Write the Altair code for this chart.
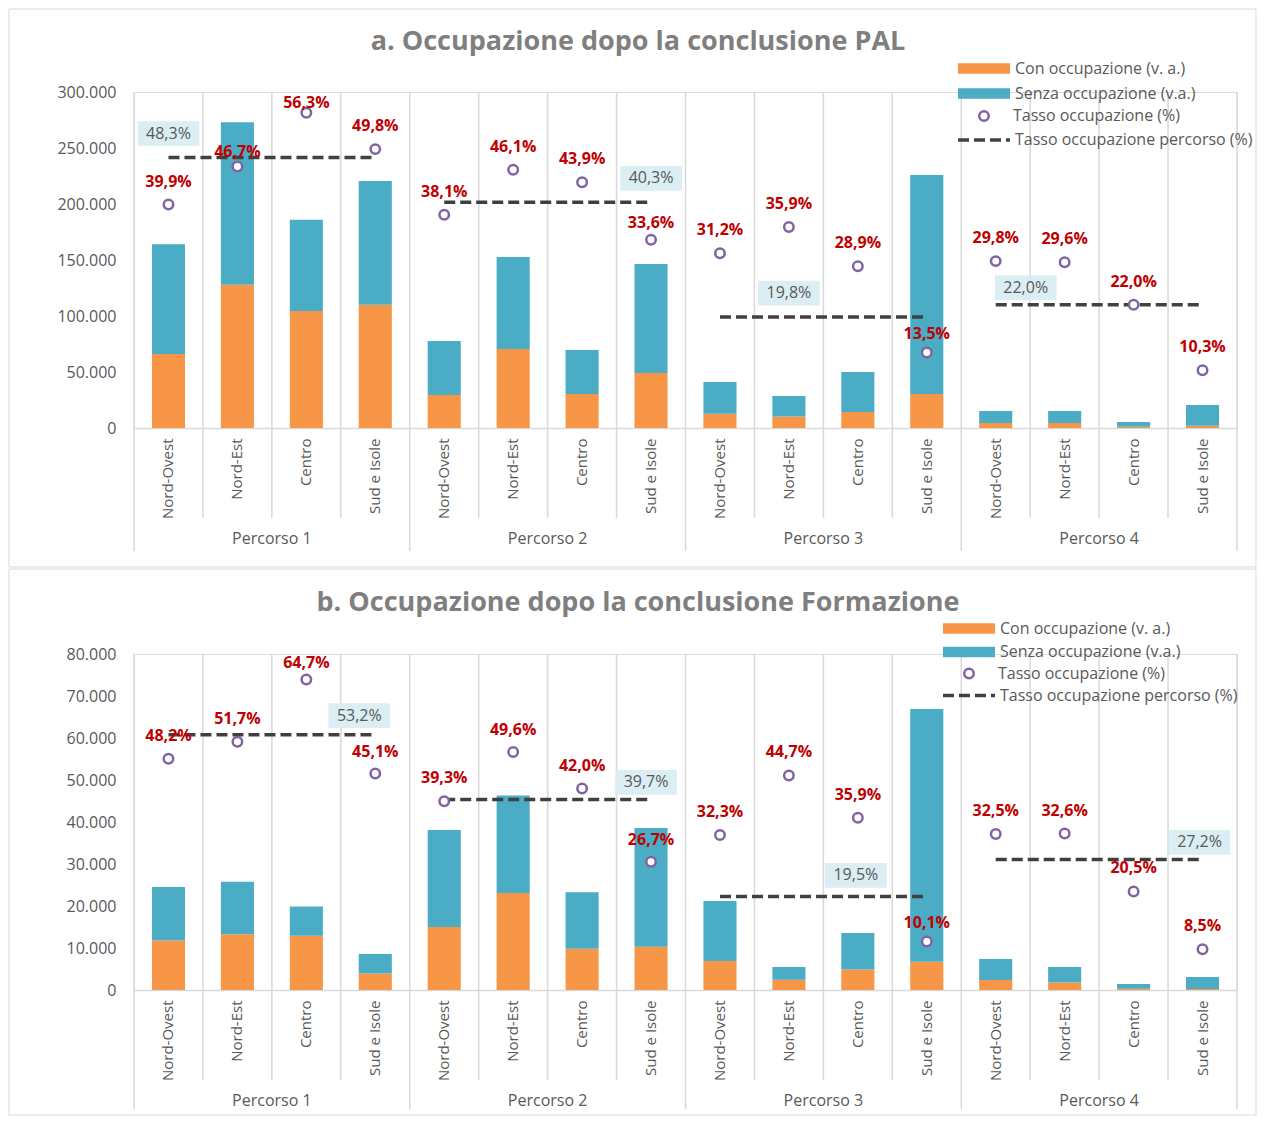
import altair as alt
import pandas as pd

# ---------------- data ----------------
regions = ["Nord-Ovest", "Nord-Est", "Centro", "Sud e Isole"]
percorsi = ["Percorso 1", "Percorso 2", "Percorso 3", "Percorso 4"]
series = ["Con occupazione (v. a.)", "Senza occupazione (v.a.)"]
rate_name = "Tasso occupazione (%)"
path_rate_name = "Tasso occupazione percorso (%)"

title_a = "a. Occupazione dopo la conclusione PAL"
con_a = [66000, 128000, 104500, 110000, 29500, 70500, 30400, 49100,
         12800, 10300, 14300, 30400, 4500, 4500, 1200, 2100]
senza_a = [98000, 145000, 81500, 110500, 48200, 82200, 39200, 97300,
           28200, 18300, 35700, 195500, 10700, 10700, 4200, 18400]
rate_a = [39.9, 46.7, 56.3, 49.8, 38.1, 46.1, 43.9, 33.6,
          31.2, 35.9, 28.9, 13.5, 29.8, 29.6, 22.0, 10.3]
path_rate_a = [48.3, 40.3, 19.8, 22.0]
y_ticks_a = [0, 50000, 100000, 150000, 200000, 250000, 300000]
rate_max_a = 60

title_b = "b. Occupazione dopo la conclusione Formazione"
con_b = [11800, 13300, 12900, 3900, 15000, 23100, 9800, 10300,
         6900, 2450, 4900, 6750, 2400, 1800, 300, 260]
senza_b = [12700, 12500, 7000, 4700, 23100, 23200, 13500, 28300,
           14300, 3050, 8700, 60150, 5000, 3700, 1150, 2840]
rate_b = [48.2, 51.7, 64.7, 45.1, 39.3, 49.6, 42.0, 26.7,
          32.3, 44.7, 35.9, 10.1, 32.5, 32.6, 20.5, 8.5]
path_rate_b = [53.2, 39.7, 19.5, 27.2]
y_ticks_b = [0, 10000, 20000, 30000, 40000, 50000, 60000, 70000, 80000]
rate_max_b = 70

# ---------------- label placement ----------------
# vertical offset (px) of each red rate label above its circle
lbl_dy_a = [-23, -14, -10, -23, -23, -23, -23, -17,
            -23, -23, -23, -18, -23, -23, -23, -23]
lbl_dy_b = [-23, -23, -16, -22, -23, -22, -22, -22,
            -23, -23, -23, -19, -23, -23, -24, -23]
# where the percorso-rate boxes sit
box_at_a = ["Nord-Ovest", "Sud e Isole", "Nord-Est", "Nord-Ovest"]
box_dx_a = [0, 0, 0, 30]
box_dy_a = [-24, -24, -24, -17]
box_at_b = ["Sud e Isole", "Sud e Isole", "Centro", "Sud e Isole"]
box_dx_b = [-16, -5, -2, -3]
box_dy_b = [-19, -17, -21, -17]

# ---------------- style ----------------
ORANGE = "#F79646"
TEAL = "#4BACC6"
PURPLE = "#8064A2"
RED = "#C00000"
DARK = "#404040"
GRID = "#D9D9D9"
TXT = "#595959"
BOXFILL = "#DAEEF3"
TITLE_C = "#7F7F7F"
FONT = "Open Sans"
W, H = 1103, 336

RECT_SYM = "M-5.2,-1.04H5.2V1.04H-5.2Z"
LINE_SYM = "M-5.2,0H5.2"
BOX_SYM = "M-1,-0.4H1V0.4H-1Z"


def fmt_pct(v):
    return f"{v:.1f}".replace(".", ",") + "%"


def panel(title, con, senza, rate, prate, y_ticks, rmax, lbl_dy,
          box_at, box_dx, box_dy, leg, frame, long_len):
    keys = [f"{p}|{r}" for p in percorsi for r in regions]
    df = pd.DataFrame({
        "key": keys,
        "percorso": [p for p in percorsi for r in regions],
        "regione": [r for p in percorsi for r in regions],
        "con": con,
        "senza": senza,
        "rate": rate,
    })
    df["prate"] = [prate[percorsi.index(p)] for p in df["percorso"]]
    df["lbl"] = [fmt_pct(v) for v in df["rate"]]
    df["rate_lbl"] = rate_name
    df["path_lbl"] = path_rate_name

    bars = df.melt(id_vars=["key"], value_vars=["con", "senza"],
                   var_name="s", value_name="value")
    bars["serie"] = bars["s"].map({"con": series[0], "senza": series[1]})
    bars["ord"] = bars["s"].map({"con": 0, "senza": 1})

    x_scale = alt.Scale(domain=keys, paddingInner=0, paddingOuter=0)
    x_axis = alt.Axis(title=None, labelExpr="split(datum.label, '|')[1]",
                      labelAngle=-90, labelFontSize=15, labelColor=TXT,
                      labelFont=FONT, labelPadding=10, ticks=False,
                      domainColor=GRID, domainWidth=1.5, grid=False)

    def X(**kw):
        return alt.X("key:N", scale=x_scale, axis=x_axis, **kw)

    # frame around the panel
    frame_l = alt.Chart(pd.DataFrame({"f": [0]})).mark_rect(
        fillOpacity=0, stroke=GRID, strokeWidth=1
    ).encode(x=alt.value(frame[0]), x2=alt.value(frame[1]),
             y=alt.value(frame[2]), y2=alt.value(frame[3]))

    # category separators
    sep_short = alt.Chart(df[df["regione"] != regions[0]]).mark_rule(
        color=GRID, strokeWidth=1.5
    ).encode(x=X(bandPosition=0), y=alt.value(0), y2=alt.value(H + 90))
    sep_long = alt.Chart(df[df["regione"] == regions[0]]).mark_rule(
        color=GRID, strokeWidth=1.5
    ).encode(x=X(bandPosition=0), y=alt.value(0), y2=alt.value(H + long_len))
    sep_end = alt.Chart(df.tail(1)).mark_rule(
        color=GRID, strokeWidth=1.5
    ).encode(x=X(bandPosition=1), y=alt.value(0), y2=alt.value(H + long_len))

    bar_l = alt.Chart(bars).mark_bar(width=alt.RelativeBandSize(0.48)).encode(
        x=X(),
        y=alt.Y("value:Q", stack="zero",
                scale=alt.Scale(domain=[y_ticks[0], y_ticks[-1]], nice=False),
                axis=alt.Axis(values=y_ticks, title=None, grid=False,
                              domain=False, ticks=False, labelPadding=18,
                              labelFontSize=16, labelColor=TXT, labelFont=FONT,
                              labelExpr="replace(format(datum.value, ','), ',', '.')")),
        color=alt.Color("serie:N", scale=alt.Scale(domain=series, range=[ORANGE, TEAL]),
                        legend=alt.Legend(title=None, orient="none",
                                          legendX=leg["x"], legendY=leg["y"][0],
                                          symbolType=RECT_SYM, symbolSize=100,
                                          symbolStrokeWidth=0, labelOffset=leg["lo"],
                                          rowPadding=leg["rp"], padding=0,
                                          labelFontSize=16, labelColor=TXT,
                                          labelFont=FONT, labelLimit=400)),
        order=alt.Order("ord:Q", sort="ascending"),
    )

    y_rate = dict(scale=alt.Scale(domain=[0, rmax], nice=False), axis=None)

    line_l = alt.Chart(df).mark_line(color=DARK, strokeWidth=3.5).encode(
        x=X(),
        y=alt.Y("prate:Q", **y_rate),
        detail="percorso:N",
        strokeDash=alt.StrokeDash(
            "path_lbl:N",
            scale=alt.Scale(domain=[path_rate_name], range=[[11, 5]]),
            legend=alt.Legend(title=None, orient="none", legendX=leg["x"],
                              legendY=leg["y"][2], symbolType=LINE_SYM,
                              symbolSize=100, symbolStrokeWidth=3.5,
                              symbolStrokeColor=DARK, labelOffset=leg["lo"],
                              padding=0, labelFontSize=16, labelColor=TXT,
                              labelFont=FONT, labelLimit=400)),
    )

    pt_l = alt.Chart(df).mark_point(filled=True, fill="white", size=90,
                                    strokeWidth=2.5, opacity=1).encode(
        x=X(),
        y=alt.Y("rate:Q", **y_rate),
        stroke=alt.Stroke(
            "rate_lbl:N",
            scale=alt.Scale(domain=[rate_name], range=[PURPLE]),
            legend=alt.Legend(title=None, orient="none", legendX=leg["x"],
                              legendY=leg["y"][1], symbolType="circle",
                              symbolSize=90, symbolStrokeWidth=2.5,
                              symbolFillColor="white", labelOffset=leg["lo"] - 2,
                              padding=0, labelFontSize=16, labelColor=TXT,
                              labelFont=FONT, labelLimit=400)),
    )

    df["ldy"] = lbl_dy
    txt_layers = []
    for dyv in sorted(set(lbl_dy)):
        txt_layers.append(
            alt.Chart(df[df["ldy"] == dyv]).mark_text(
                dy=dyv, color=RED, fontSize=16, fontWeight="bold", font=FONT
            ).encode(x=X(), y=alt.Y("rate:Q", **y_rate), text="lbl:N"))

    box_layers = []
    for i, p in enumerate(percorsi):
        bdf = pd.DataFrame({"key": [f"{p}|{box_at[i]}"], "prate": [prate[i]],
                            "blbl": [fmt_pct(prate[i])]})
        box_layers.append(
            alt.Chart(bdf).mark_point(shape=BOX_SYM, size=3800, filled=True,
                                      fill=BOXFILL, strokeWidth=0, opacity=1,
                                      xOffset=box_dx[i], yOffset=box_dy[i]).encode(
                x=X(), y=alt.Y("prate:Q", **y_rate)))
        box_layers.append(
            alt.Chart(bdf).mark_text(fontSize=16, color=TXT, font=FONT,
                                     xOffset=box_dx[i], yOffset=box_dy[i]).encode(
                x=X(), y=alt.Y("prate:Q", **y_rate), text="blbl:N"))

    rate_group = alt.layer(line_l, pt_l, *txt_layers, *box_layers)

    perc_l = alt.Chart(df[df["regione"] == regions[2]]).mark_text(
        fontSize=16, color=TXT, font=FONT
    ).encode(x=X(bandPosition=0), y=alt.value(H + 111), text="percorso:N")

    title_l = alt.Chart(pd.DataFrame({"t": [title]})).mark_text(
        fontSize=27, fontWeight="bold", color=TITLE_C, font=FONT
    ).encode(x=alt.value(leg["tx"]), y=alt.value(leg["ty"]), text="t:N")

    return alt.layer(frame_l, sep_short, sep_long, sep_end, bar_l,
                     rate_group, perc_l, title_l).resolve_scale(
        y="independent").properties(width=W, height=H)


leg_a = {"x": 842, "y": [-31.5, 16, 40], "rp": 9, "lo": 23, "tx": 504, "ty": -50}
leg_b = {"x": 827, "y": [-33.5, 11.5, 33.5], "rp": 7.5, "lo": 23, "tx": 504, "ty": -51}

pa = panel(title_a, con_a, senza_a, rate_a, path_rate_a, y_ticks_a, rate_max_a,
           lbl_dy_a, box_at_a, box_dx_a, box_dy_a, leg_a, (-125, 1122, -83, 475), 123)
pb = panel(title_b, con_b, senza_b, rate_b, path_rate_b, y_ticks_b, rate_max_b,
           lbl_dy_b, box_at_b, box_dx_b, box_dy_b, leg_b, (-125, 1122, -85, 461), 119)

chart = alt.vconcat(pa, pb, spacing=0).resolve_scale(
    color="independent", stroke="independent", strokeDash="independent"
).resolve_legend(
    color="independent", stroke="independent", strokeDash="independent"
).properties(
    padding={"left": 0, "top": 0, "right": 0, "bottom": 0}
).configure_view(stroke=None).configure(font=FONT)

chart.save("out.html", embed_options={"renderer": "svg", "actions": False})
